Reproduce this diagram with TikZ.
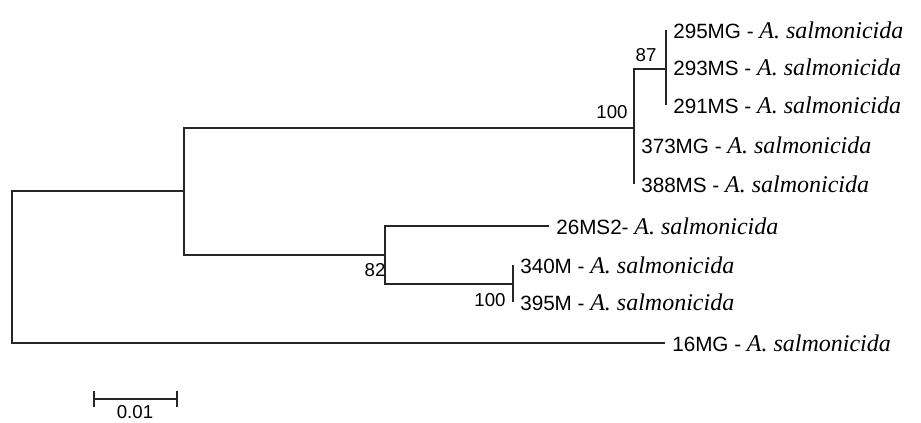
\documentclass[tikz,border=0pt]{standalone}
\usepackage{fontspec}
\setmainfont{Liberation Serif}
\newfontfamily\arialfont{Liberation Sans}
\usepackage{tikz}

\newcommand{\asal}{{\rmfamily\fontsize{18}{20}\selectfont\itshape A. salmonicida}}

\begin{document}
\begin{tikzpicture}[x=0.75pt, y=-0.75pt,
  branch/.style={line width=1.2pt, black!85},
  taxon/.style={anchor=west, inner xsep=5.25pt, inner ysep=0pt, font=\arialfont\fontsize{15.5}{18}\selectfont},
  boot/.style={inner sep=0pt, font=\arialfont\fontsize{14}{16}\selectfont}]
\useasboundingbox (0,0) rectangle (921,423);
\coordinate (root) at (12,267);
\coordinate (nA) at (184,191);
\coordinate (nB) at (634,128);
\coordinate (nC) at (666,69);
\coordinate (nD) at (385,255);
\coordinate (nE) at (513,284);
\node[taxon] (t295) at (666,30) {295MG - \asal};
\node[taxon] (t293) at (666,67) {293MS - \asal};
\node[taxon] (t291) at (666,105) {291MS - \asal};
\node[taxon] (t373) at (634,145) {373MG - \asal};
\node[taxon] (t388) at (634,184) {388MS - \asal};
\node[taxon] (t26) at (549,226) {26MS2- \asal};
\node[taxon] (t340) at (513,265) {340M - \asal};
\node[taxon] (t395) at (513,302) {395M - \asal};
\node[taxon] (t16) at (665,343) {16MG - \asal};
\draw[branch] (nA) -| (root) |- (t16.west);
\draw[branch] (nB) -| (nA) |- (nD);
\draw[branch] (nC) -| (nB) |- (t388.west);
\draw[branch] (t295.west) -- (t291.west);
\draw[branch] (t26.west) -| (nD) |- (nE);
\draw[branch] (t340.west) -- (t395.west);
\node[boot] (b87) at (646,55) {87};
\node[boot] (b100a) at (612,112) {100};
\node[boot] (b82) at (375,270) {82};
\node[boot] (b100b) at (490,300) {100};
\coordinate (sbl) at (94,399);
\coordinate (sbr) at (177,399);
\draw[branch] (sbl) -- (sbr);
\draw[branch] ([yshift=-6]sbl) -- ([yshift=6]sbl);
\draw[branch] ([yshift=-6]sbr) -- ([yshift=6]sbr);
\node[boot] (sblab) at (135,412) {0.01};
\end{tikzpicture}
\end{document}
